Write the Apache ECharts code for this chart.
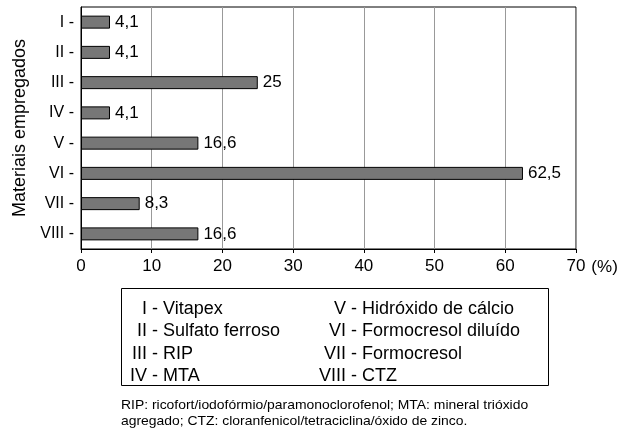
<!DOCTYPE html>
<html>
<head>
<meta charset="utf-8">
<script src="https://cdn.jsdelivr.net/npm/echarts@6/dist/echarts.min.js"></script>
<style>
  html, body { margin: 0; padding: 0; background: #fff; }
  #chart { width: 634px; height: 432px; }
</style>
</head>
<body>
<div id="chart"></div>
<script>
// Materials (roman numerals) and percentage of use
const categories = ['I', 'II', 'III', 'IV', 'V', 'VI', 'VII', 'VIII'];
const values = [4.1, 4.1, 25, 4.1, 16.6, 62.5, 8.3, 16.6];
const materialNames = ['Vitapex', 'Sulfato ferroso', 'RIP', 'MTA',
  'Hidróxido de cálcio', 'Formocresol diluído', 'Formocresol', 'CTZ'];
const xTicks = [0, 10, 20, 30, 40, 50, 60, 70];
const footnote = [
  'RIP: ricofort/iodofórmio/paramonoclorofenol; MTA: mineral trióxido',
  'agregado; CTZ: cloranfenicol/tetraciclina/óxido de zinco.'
];

const FONT = '"Liberation Sans", Arial, Helvetica, sans-serif';
const fmt = v => String(v).replace('.', ',');

const chart = echarts.init(document.getElementById('chart'), null, { renderer: 'canvas' });

// Key box: two columns of four entries, numeral right-aligned before the dash
const keyElements = [{
  type: 'rect',
  shape: { x: 121.5, y: 288.5, width: 427, height: 97 },
  style: { fill: 'none', stroke: '#000', lineWidth: 1 }
}];
const colDash = [158, 357];
const rowY = [309, 331.5, 354, 376];
categories.forEach((c, i) => {
  const col = Math.floor(i / 4), row = i % 4;
  keyElements.push({
    type: 'text',
    style: { text: c + ' -', x: colDash[col], y: rowY[row], textAlign: 'right',
      textVerticalAlign: 'middle', font: '18px ' + FONT, fill: '#000' }
  });
  keyElements.push({
    type: 'text',
    style: { text: materialNames[i], x: colDash[col] + 5, y: rowY[row], textAlign: 'left',
      textVerticalAlign: 'middle', font: '18px ' + FONT, fill: '#000' }
  });
});
footnote.forEach((line, i) => {
  keyElements.push({
    type: 'text',
    x: 121, y: 405 + i * 16,
    scaleX: 1.07,
    style: { text: line, x: 0, y: 0, textAlign: 'left',
      textVerticalAlign: 'middle', font: '13px ' + FONT, fill: '#000' }
  });
});

chart.setOption({
  animation: false,
  backgroundColor: '#fff',
  textStyle: { fontFamily: FONT },
  grid: {
    left: 81, right: 58, top: 7, bottom: 183,
    show: true, borderColor: '#000', borderWidth: 1, backgroundColor: 'transparent'
  },
  xAxis: {
    type: 'value',
    min: xTicks[0], max: xTicks[xTicks.length - 1], interval: 10,
    name: '(%)',
    nameLocation: 'end',
    nameGap: 11,
    nameTextStyle: { fontSize: 17, color: '#000', verticalAlign: 'top', padding: [10, 0, 0, 0] },
    axisLine: { show: true, lineStyle: { color: '#000', width: 1 } },
    axisTick: { show: true, length: 4, lineStyle: { color: '#000' } },
    axisLabel: { fontSize: 17, color: '#000', margin: 9 },
    splitLine: { show: true, lineStyle: { color: '#999', width: 1 } }
  },
  yAxis: {
    type: 'category',
    data: categories,
    inverse: true,
    name: 'Materiais empregados',
    nameLocation: 'middle',
    nameGap: 48,
    nameTextStyle: { fontSize: 18, color: '#000' },
    axisLine: { show: true, lineStyle: { color: '#000', width: 1 } },
    axisTick: { show: false },
    axisLabel: { fontSize: 16, color: '#000', margin: 7, formatter: v => v + ' -' },
    splitLine: { show: false }
  },
  series: [{
    type: 'bar',
    data: values,
    barWidth: 13,
    itemStyle: { color: '#777', borderColor: '#000', borderWidth: 1 },
    label: {
      show: true, position: 'right', distance: 5,
      fontSize: 17, color: '#000', formatter: p => fmt(p.value)
    }
  }],
  graphic: keyElements
});
</script>
</body>
</html>
